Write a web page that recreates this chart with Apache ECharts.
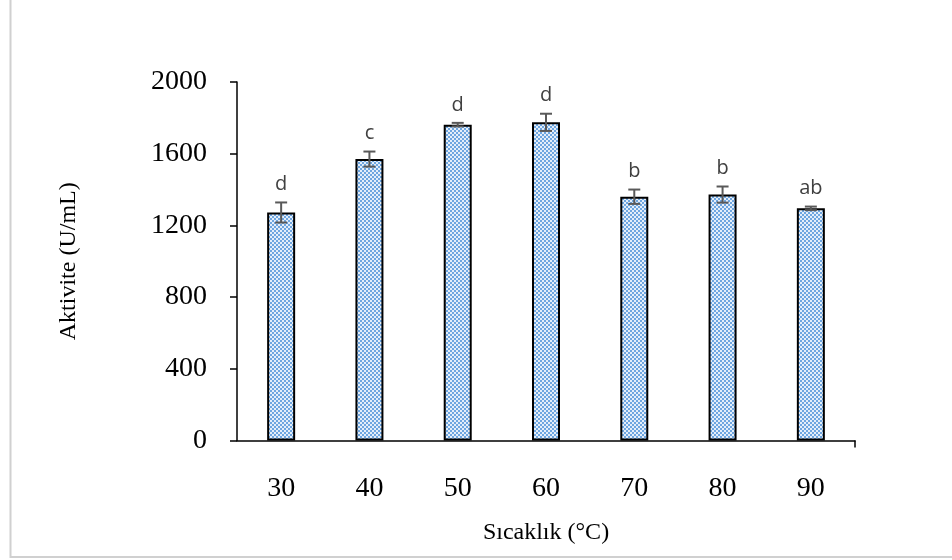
<!DOCTYPE html>
<html>
<head>
<meta charset="utf-8">
<script src="https://cdn.jsdelivr.net/npm/echarts@6/dist/echarts.min.js"></script>
<style>
html,body{margin:0;padding:0;background:#fff;}
#chart{width:952px;height:560px;}
</style>
</head>
<body>
<div id="chart"></div>
<script>
// Data
const categories = ['30', '40', '50', '60', '70', '80', '90'];
const activity = [1272, 1570, 1762, 1775, 1360, 1372, 1295];
const errors = [56, 42, 10, 48, 40, 45, 10];
const letters = ['d', 'c', 'd', 'd', 'b', 'b', 'ab'];
const yTicks = [0, 400, 800, 1200, 1600, 2000];

// checkered pattern fill
function makePattern() {
  const c = document.createElement('canvas');
  c.width = 4; c.height = 4;
  const ctx = c.getContext('2d');
  ctx.fillStyle = '#e4eefa';
  ctx.fillRect(0, 0, 4, 4);
  ctx.fillStyle = '#6ea6e0';
  ctx.fillRect(0, 0, 2, 2);
  ctx.fillRect(2, 2, 2, 2);
  return c;
}

const chart = echarts.init(document.getElementById('chart'));
const serif = '"Liberation Serif", "Times New Roman", serif';

const option = {
  animation: false,
  backgroundColor: '#fff',
  graphic: [{
    type: 'rect',
    shape: { x: 10.5, y: -10, width: 980, height: 567 },
    style: { fill: 'none', stroke: '#d0d0d0', lineWidth: 2 },
    silent: true
  }],
  grid: { left: 237, right: 97, top: 82, bottom: 119.5 },
  xAxis: [{
    type: 'category',
    data: categories,
    boundaryGap: true,
    axisLine: { lineStyle: { color: '#000', width: 1.5 } },
    axisTick: { alignWithLabel: true, length: 7, lineStyle: { color: '#000', width: 1.5 } },
    axisLabel: { color: '#000', fontFamily: serif, fontSize: 28, margin: 34 },
    name: 'Sıcaklık (°C)',
    nameLocation: 'middle',
    nameGap: 80,
    nameTextStyle: { color: '#000', fontFamily: serif, fontSize: 24 }
  }, {
    type: 'value',
    position: 'bottom',
    min: 0,
    max: categories.length,
    axisLine: { show: false },
    axisTick: { show: true, customValues: [categories.length], length: 7, lineStyle: { color: '#000', width: 1.5 } },
    axisLabel: { show: false },
    splitLine: { show: false }
  }],
  yAxis: {
    type: 'value',
    min: yTicks[0],
    max: yTicks[yTicks.length - 1],
    interval: 400,
    axisLine: { show: true, lineStyle: { color: '#000', width: 1.5 } },
    axisTick: { show: true, length: 7, lineStyle: { color: '#000', width: 1.5 } },
    axisLabel: { color: '#000', fontFamily: serif, fontSize: 28, margin: 30, formatter: v => String(v) },
    splitLine: { show: false },
    name: 'Aktivite (U/mL)',
    nameLocation: 'middle',
    nameGap: 156,
    nameTextStyle: { color: '#000', fontFamily: serif, fontSize: 24 }
  },
  series: [{
    type: 'bar',
    data: activity,
    barWidth: 28,
    itemStyle: {
      color: { image: makePattern(), repeat: 'repeat' },
      borderColor: '#000',
      borderWidth: 2
    }
  }, {
    type: 'custom',
    data: activity.map((v, i) => [i, v, errors[i]]),
    renderItem: function (params, api) {
      const i = api.value(0), v = api.value(1), e = api.value(2);
      const top = api.coord([i, v + e]);
      const bot = api.coord([i, v - e]);
      const cap = 6;
      const style = { stroke: '#595959', lineWidth: 2 };
      return {
        type: 'group',
        children: [
          { type: 'line', shape: { x1: top[0], y1: top[1], x2: bot[0], y2: bot[1] }, style: style },
          { type: 'line', shape: { x1: top[0] - cap, y1: top[1], x2: top[0] + cap, y2: top[1] }, style: style },
          { type: 'line', shape: { x1: bot[0] - cap, y1: bot[1], x2: bot[0] + cap, y2: bot[1] }, style: style },
          { type: 'text', x: top[0], y: top[1] - 8,
            style: { text: letters[params.dataIndex], fill: '#404040', font: '20px "Open Sans", "Liberation Sans", sans-serif', textAlign: 'center', textVerticalAlign: 'bottom' } }
        ]
      };
    },
    z: 5
  }]
};
chart.setOption(option);
</script>
</body>
</html>
